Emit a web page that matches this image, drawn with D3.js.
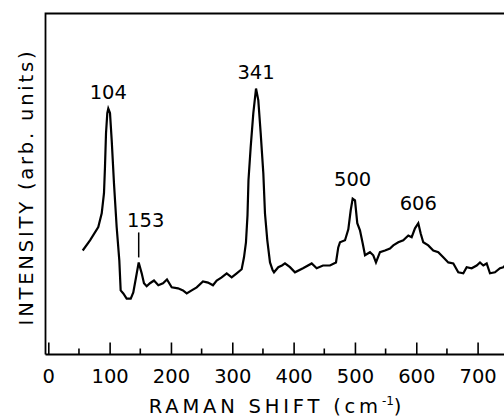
<!DOCTYPE html>
<html>
<head>
<meta charset="utf-8">
<script src="https://cdn.jsdelivr.net/npm/d3@7"></script>
<style>
  body { margin: 0; background: #fff; }
  text { font-family: "DejaVu Sans", sans-serif; fill: #000; }
</style>
</head>
<body>
<div id="chart"></div>
<script>
const width = 504;
const height = 419;

// Raman shift (cm-1)
const shift = [56.1, 68.0, 81.5, 87.1, 90.8, 92.4, 94.1, 96.2, 97.8, 100.6,
    103.4, 107.1, 111.5, 115.8, 118.0, 122.3, 127.8, 134.4, 138.6, 143.0,
    147.4, 152.3, 156.0, 160.4, 165.8, 172.3, 179.4, 187.0, 193.5, 201.2,
    211.5, 219.6, 225.7, 233.8, 242.0, 252.2, 260.4, 268.5, 274.6, 282.7,
    290.9, 299.0, 307.2, 315.3, 319.1, 322.3, 324.8, 326.4, 330.0, 334.3,
    338.7, 342.4, 346.3, 350.6, 353.3, 357.1, 361.5, 365.9, 368.0, 375.0,
    381.0, 385.9, 394.1, 402.2, 415.3, 429.5, 437.6, 447.9, 459.3, 469.1,
    472.8, 475.6, 483.8, 489.2, 493.1, 496.3, 500.1, 503.8, 508.2, 512.6,
    516.4, 524.5, 529.9, 534.3, 540.8, 549.0, 557.1, 562.5, 570.7, 578.8,
    587.0, 592.5, 597.9, 603.3, 607.2, 611.4, 619.6, 627.7, 635.9, 644.0,
    652.2, 660.4, 668.5, 676.7, 682.2, 690.3, 698.5, 703.9, 709.3, 714.8,
    720.2, 728.3, 736.5, 741.9, 746.3];

// intensity (arb. units, 0-100 = axis height)
const intensity = [30.5, 33.5, 37.4, 41.4, 47.3, 54.9, 64.9, 70.8, 72.1, 70.8,
    62.8, 50.2, 37.3, 27.6, 18.8, 17.9, 16.4, 16.4, 18.2, 22.6,
    27.0, 23.8, 20.9, 20.0, 20.9, 21.7, 20.3, 20.9, 22.0, 19.7,
    19.4, 18.8, 17.9, 18.8, 19.7, 21.4, 21.1, 20.3, 21.7, 22.6,
    23.8, 22.6, 23.8, 25.0, 28.5, 32.9, 40.8, 51.1, 60.8, 70.8,
    78.0, 74.6, 64.9, 53.2, 41.4, 33.5, 27.0, 24.7, 24.1, 25.6,
    26.1, 26.7, 25.6, 24.1, 25.3, 26.7, 25.3, 26.1, 26.1, 27.0,
    31.4, 32.9, 33.5, 36.7, 42.3, 45.7, 45.2, 38.5, 36.4, 32.6,
    29.1, 30.0, 29.1, 27.0, 30.0, 30.5, 31.1, 32.0, 32.9, 33.5,
    34.9, 34.4, 37.0, 38.5, 35.5, 32.9, 32.0, 30.5, 30.0, 28.5,
    27.0, 26.7, 24.1, 23.8, 25.6, 25.3, 26.1, 27.0, 26.1, 26.7,
    23.8, 24.1, 25.3, 25.6, 26.4];

// peak annotations: label text and where the peak sits on the trace
const peakLabels = ["104", "153", "341", "500", "606"];
const peakPos = [97.8, 147.4, 338.7, 496.3, 603.3];

const xTicks = [0, 100, 200, 300, 400, 500, 600, 700];
const xMinorTicks = [50, 150, 250, 350, 450, 550, 650, 750];

const margin = {left: 45.5, top: 13.5, bottom: 354.5};

const svg = d3.select("#chart")
    .append("svg")
    .attr("width", width)
    .attr("height", height);

const x = d3.scaleLinear()
    .domain([0, 700])
    .range([48.3, 477.6]);

const y = d3.scaleLinear()
    .domain([0, 100])
    .range([margin.bottom, margin.top]);

// frame: left and top lines (right side runs off the picture)
svg.append("path")
    .attr("d", `M${margin.left},${margin.bottom} V${margin.top} H${width + 10}`)
    .attr("fill", "none")
    .attr("stroke", "#000")
    .attr("stroke-width", 1.8);

// bottom axis, ticks pointing inward
const axis = svg.append("g")
    .attr("transform", `translate(0,${margin.bottom})`);

axis.append("line")
    .attr("x1", margin.left)
    .attr("x2", width + 10)
    .attr("stroke", "#000")
    .attr("stroke-width", 1.8);

axis.call(d3.axisBottom(x).tickValues(xTicks).tickSize(-12).tickFormat(d3.format("d")))
    .call(g => g.select(".domain").remove())
    .call(g => g.selectAll(".tick line").attr("stroke-width", 1.6))
    .call(g => g.selectAll(".tick text")
        .attr("y", 28)
        .attr("dy", null)
        .style("font-size", "19.5px")
        .style("font-family", "DejaVu Sans"));

axis.selectAll(".minor")
    .data(xMinorTicks)
    .join("line")
    .attr("class", "minor")
    .attr("x1", d => x(d))
    .attr("x2", d => x(d))
    .attr("y1", 0)
    .attr("y2", -6)
    .attr("stroke", "#000")
    .attr("stroke-width", 1.6);

// spectrum
const pts = shift.map((s, i) => [s, intensity[i]]);

svg.append("clipPath")
    .attr("id", "clip")
    .append("rect")
    .attr("x", margin.left)
    .attr("y", margin.top)
    .attr("width", width - margin.left)
    .attr("height", margin.bottom - margin.top);

svg.append("path")
    .datum(pts)
    .attr("clip-path", "url(#clip)")
    .attr("fill", "none")
    .attr("stroke", "#000")
    .attr("stroke-width", 2.2)
    .attr("stroke-linejoin", "miter")
    .attr("d", d3.line().x(d => x(d[0])).y(d => y(d[1])));

// peak labels, placed above the local maximum
peakLabels.forEach((lab, i) => {
    const near = pts.filter(p => Math.abs(p[0] - peakPos[i]) < 6);
    const top = d3.max(near, p => p[1]);
    const px = x(peakPos[i]);
    const py = y(top);
    if (lab === "153") {
        svg.append("line")
            .attr("x1", px).attr("x2", px)
            .attr("y1", py - 5).attr("y2", py - 30)
            .attr("stroke", "#000")
            .attr("stroke-width", 1.5);
        svg.append("text")
            .attr("x", px + 7)
            .attr("y", py - 35)
            .attr("text-anchor", "middle")
            .style("font-size", "19.5px")
            .text(lab);
    } else {
        svg.append("text")
            .attr("x", px)
            .attr("y", py - (i > 2 ? 13 : 10))
            .attr("text-anchor", "middle")
            .style("font-size", "19.5px")
            .text(lab);
    }
});

// axis titles
const xt = svg.append("text")
    .attr("x", 277)
    .attr("y", 413)
    .attr("text-anchor", "middle")
    .style("font-size", "19.5px")
    .style("letter-spacing", "3.8px");
xt.append("tspan").text("RAMAN  SHIFT (cm");
xt.append("tspan").attr("dy", -8).style("font-size", "12px").style("letter-spacing", "0px").text("-1");
xt.append("tspan").attr("dy", 8).text(")");

svg.append("text")
    .attr("transform", "translate(33,187) rotate(-90)")
    .attr("text-anchor", "middle")
    .style("font-size", "19.5px")
    .style("letter-spacing", "2.8px")
    .text("INTENSITY (arb. units)");
</script>
</body>
</html>
